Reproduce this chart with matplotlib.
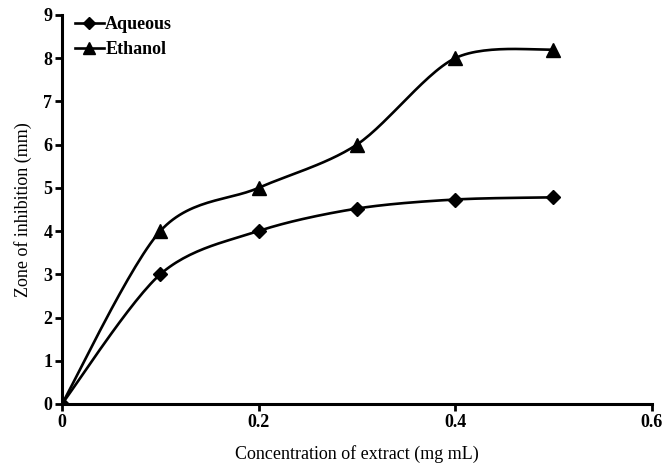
import numpy as np
import matplotlib
matplotlib.use("Agg")
import matplotlib.pyplot as plt

concentration = [0.0, 0.1, 0.2, 0.3, 0.4, 0.5]
aqueous = [0.0, 3.0, 4.0, 4.52, 4.73, 4.78]
ethanol = [0.0, 4.0, 5.0, 6.0, 8.0, 8.2]
x_ticks = [0, 0.2, 0.4, 0.6]
x_tick_labels = ["0", "0.2", "0.4", "0.6"]
y_ticks = list(range(0, 10))

plt.rcParams['font.family'] = ['Liberation Serif', 'DejaVu Serif']


def smooth(x, y, n=30, tension=0.45):
    # Excel-like smoothed line (Bezier) through the data points
    x = np.asarray(x, float); y = np.asarray(y, float)
    xs, ys = [x[0]], [y[0]]
    for i in range(len(x) - 1):
        p0 = (x[max(i - 1, 0)], y[max(i - 1, 0)])
        p1 = (x[i], y[i]); p2 = (x[i + 1], y[i + 1])
        p3 = (x[min(i + 2, len(x) - 1)], y[min(i + 2, len(x) - 1)])
        c1 = (p1[0] + (p2[0] - p0[0]) * tension / 3, p1[1] + (p2[1] - p0[1]) * tension / 3)
        c2 = (p2[0] - (p3[0] - p1[0]) * tension / 3, p2[1] - (p3[1] - p1[1]) * tension / 3)
        t = np.linspace(0, 1, n)[1:]
        bx = (1 - t) ** 3 * p1[0] + 3 * (1 - t) ** 2 * t * c1[0] + 3 * (1 - t) * t ** 2 * c2[0] + t ** 3 * p2[0]
        by = (1 - t) ** 3 * p1[1] + 3 * (1 - t) ** 2 * t * c1[1] + 3 * (1 - t) * t ** 2 * c2[1] + t ** 3 * p2[1]
        xs.extend(bx); ys.extend(by)
    return np.array(xs), np.array(ys)


fig = plt.figure(figsize=(6.63, 4.67), dpi=100)
ax = fig.add_axes([0.0935, 0.135, 0.8895, 0.833])

for vals, marker, ms, label in [(aqueous, 'D', 7, 'Aqueous'), (ethanol, '^', 10, 'Ethanol')]:
    sx, sy = smooth(concentration, vals)
    ax.plot(sx, sy, color='black', lw=1.9, zorder=2)
    ax.plot(concentration, vals, linestyle='none', marker=marker, ms=ms, color='black', zorder=3)
    ax.plot([], [], color='black', lw=1.9, marker=marker, ms=ms * 0.9, label=label)

ax.set_xlim(0, 0.6)
ax.set_ylim(0, 9)
ax.set_xticks(x_ticks)
ax.set_xticklabels(x_tick_labels)
ax.set_yticks(y_ticks)
for s in ['top', 'right']:
    ax.spines[s].set_visible(False)
for s in ['left', 'bottom']:
    ax.spines[s].set_linewidth(2.2)
ax.tick_params(direction='out', width=2, length=5, labelsize=13, pad=2)
for lab in ax.get_xticklabels() + ax.get_yticklabels():
    lab.set_fontweight('bold')

ax.set_xlabel('Concentration of extract (mg mL)', fontsize=13, labelpad=10)
ax.set_ylabel('Zone of inhibition (mm)', fontsize=13, labelpad=8)

leg = ax.legend(loc='upper left', bbox_to_anchor=(0.0, 1.03), frameon=False, fontsize=13,
                handlelength=1.6, handletextpad=0.1, labelspacing=0.45, borderaxespad=0.3)
for t in leg.get_texts():
    t.set_fontweight('bold')

fig.savefig('out.png', dpi=100)
